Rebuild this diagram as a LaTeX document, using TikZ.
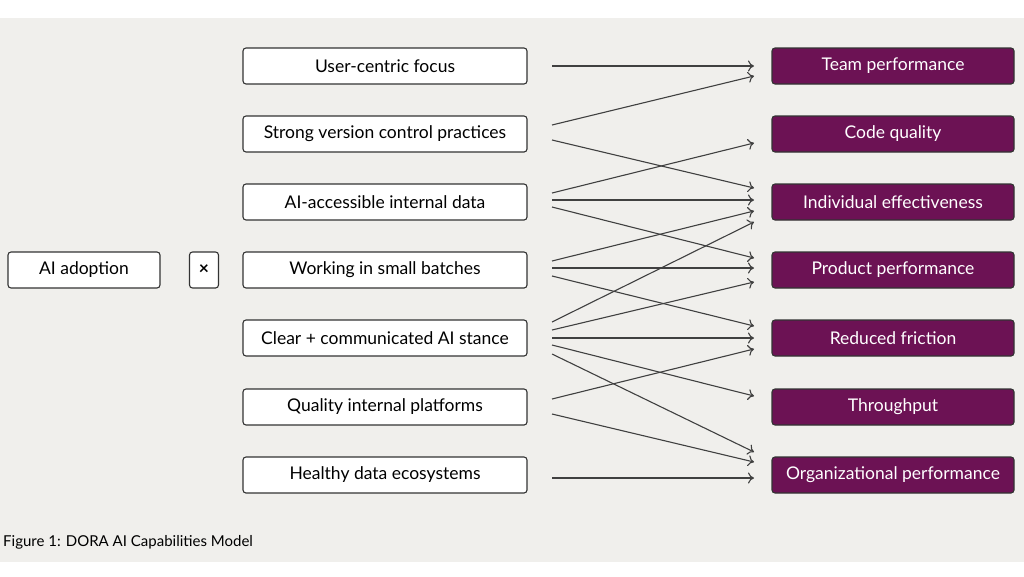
\documentclass[tikz,border=0pt]{standalone}
\usepackage{fontspec}
\setmainfont{Lato}
\usetikzlibrary{arrows.meta}
\definecolor{plum}{RGB}{108,18,84}
\definecolor{bg}{RGB}{240,239,236}
\begin{document}
\begin{tikzpicture}[x=1pt,y=-1pt,
  lbox/.style={draw=black!80,fill=white,rounded corners=3pt,line width=1.1pt,minimum width=284pt,minimum height=36pt,font=\fontsize{17.5}{20}\selectfont,inner sep=0pt},
  rbox/.style={draw=black!80,fill=plum,text=white,rounded corners=3pt,line width=1.1pt,minimum width=242pt,minimum height=36pt,font=\fontsize{17.5}{20}\selectfont,inner sep=0pt},
  ar/.style={draw=black!75,line width=1.1pt,-{To[length=6pt,width=11pt]}}]
\useasboundingbox (0,0) rectangle (1024,576);
\fill[white] (0,0) rectangle (1024,576);
\fill[bg] (0,18) rectangle (1024,562);
\node[lbox,minimum width=152pt] (ai) at (84,270) {AI adoption};
\node[lbox,minimum width=29pt] (x) at (204,270) {\bfseries ×};
\foreach \n/\t/\y in {l1/User-centric focus/66,l2/Strong version control practices/134,l3/AI-accessible internal data/202,l4/Working in small batches/270,l5/Clear + communicated AI stance/338,l6/Quality internal platforms/407,l7/Healthy data ecosystems/475}
  \node[lbox] (\n) at (385,\y) {\t};
\foreach \n/\t/\y in {r1/Team performance/66,r2/Code quality/134,r3/Individual effectiveness/202,r4/Product performance/270,r5/Reduced friction/338,r6/Throughput/407,r7/Organizational performance/475}
  \node[rbox] (\n) at (893,\y) {\t};
\foreach \a/\b in {66/66,125/76,140/188,193/143,200/200,207/258,261/211,268/268,276/326,322/222,330/282,338/338,345/396,354/452,399/349,414/462,478/478}
  \draw[ar] (552,\a) coordinate (s) -- (754,\b) coordinate (e);
\node[anchor=west,font=\fontsize{15}{17}\selectfont,inner sep=0pt] (cap) at (3,542) {Figure 1: DORA AI Capabilities Model};
\end{tikzpicture}
\end{document}
